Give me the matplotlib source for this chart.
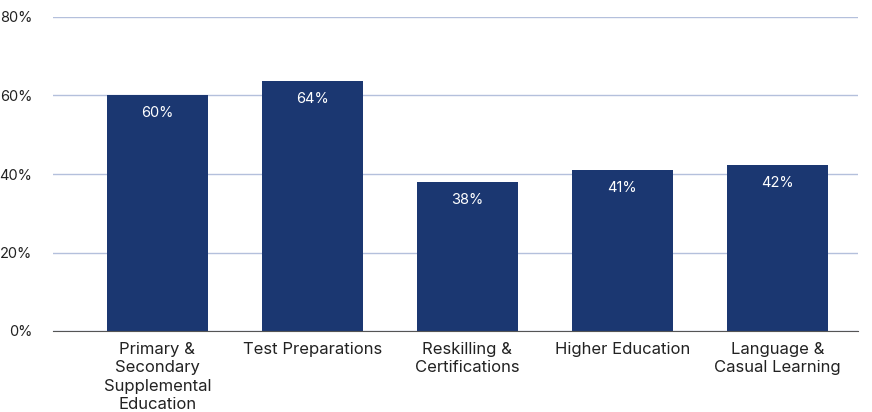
import numpy as np
import matplotlib.pyplot as plt

# data
categories = ["Primary &\nSecondary\nSupplemental\nEducation", "Test Preparations",
              "Reskilling &\nCertifications", "Higher Education", "Language &\nCasual Learning"]
values = [60, 63.7, 38, 41, 42.3]
yticks = [0, 20, 40, 60, 80]

plt.rcParams['font.family'] = ['Inter', 'DejaVu Sans']

fig = plt.figure(figsize=(8.72, 4.12), dpi=100)
ax = fig.add_axes([53/872, 1-331/412, (858-53)/872, (331-17)/412])

x = np.arange(len(categories))
bars = ax.bar(x, values, width=101/155, color="#1b3771", zorder=3)

for xi, v in zip(x, values):
    ax.text(xi, v - 4.5, f"{v:.0f}%", ha="center", va="center", color="white", fontsize=10.5, zorder=4)

ax.set_xlim(-0.674, 4.52)
ax.set_ylim(0, 80)
ax.set_yticks(yticks)
ax.set_yticklabels([f"{t}%" for t in yticks], fontsize=10.5, color="#222222")
ax.set_xticks(x)
ax.set_xticklabels(categories, fontsize=12, color="#222222", linespacing=1.27)
ax.tick_params(axis="both", length=0)
ax.tick_params(axis="y", pad=15)
ax.tick_params(axis="x", pad=8)

ax.grid(axis="y", color="#b4c0dc", linewidth=1, zorder=0)
for s in ["top", "right", "left"]:
    ax.spines[s].set_visible(False)
ax.spines["bottom"].set_color("#555555")
ax.spines["bottom"].set_zorder(5)

fig.savefig("out.png", dpi=100)
